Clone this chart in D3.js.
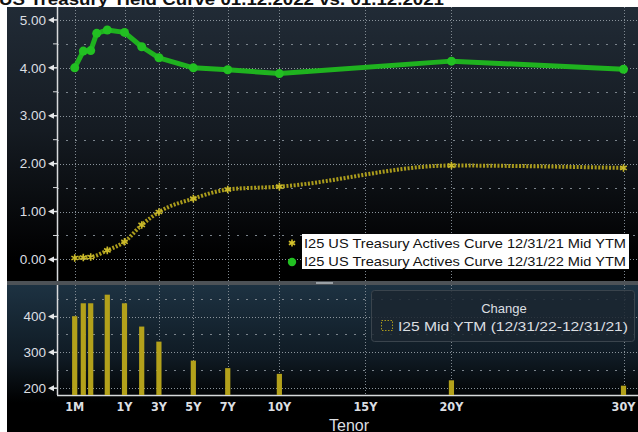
<!DOCTYPE html>
<meta charset="utf-8">
<style>
    body { margin: 0; background: #fff; }
    text { font-family: "Liberation Sans", Arial, sans-serif; }
    .tick-label { fill: #dcdfe2; font-size: 13.5px; }
    .x-label { fill: #dcdfe2; font-size: 12.5px; font-weight: bold; font-family: "DejaVu Sans Condensed", "Liberation Sans Narrow", "Liberation Sans", sans-serif; }
</style>
<svg width="638" height="432"></svg>
<script src="https://cdn.jsdelivr.net/npm/d3@7/dist/d3.min.js"></script>
<script>
    // tenors in months, tick labels
    var tenors22 = ["1M", "2M", "3M", "4M", "6M", "1Y", "2Y", "3Y", "5Y", "7Y", "10Y", "20Y", "30Y"];
    var yields22 = [4.00, 4.35, 4.36, 4.72, 4.79, 4.74, 4.44, 4.21, 4.00, 3.96, 3.88, 4.14, 3.97];

    var tenors21 = ["1M", "2M", "3M", "6M", "1Y", "2Y", "3Y", "5Y", "7Y", "10Y", "20Y", "30Y"];
    var yields21 = [0.03, 0.04, 0.05, 0.19, 0.37, 0.72, 0.99, 1.27, 1.46, 1.52, 1.96, 1.91];

    var changeBp = [401, 437, 437, 461, 437, 372, 330, 277, 256, 240, 222, 207];

    var xTicks = ["1M", "1Y", "3Y", "5Y", "7Y", "10Y", "15Y", "20Y", "30Y"];
    var yTicksTop = [0, 1, 2, 3, 4, 5];
    var yTicksBottom = [200, 300, 400];

    function months(t) {
        var n = parseFloat(t);
        return t.slice(-1) === "Y" ? n * 12 : n;
    }

    var svg = d3.select("svg"),
        W = 638, H = 432;

    var defs = svg.append("defs");
    var g1 = defs.append("linearGradient").attr("id", "bgTop").attr("x1", 0).attr("x2", 0).attr("y1", 0).attr("y2", 1);
    g1.append("stop").attr("offset", "0%").attr("stop-color", "#212b36");
    g1.append("stop").attr("offset", "45%").attr("stop-color", "#151b22");
    g1.append("stop").attr("offset", "92%").attr("stop-color", "#000");
    var g2 = defs.append("linearGradient").attr("id", "bgBottom").attr("x1", 0).attr("x2", 0).attr("y1", 0).attr("y2", 1);
    g2.append("stop").attr("offset", "0%").attr("stop-color", "#1d3242");
    g2.append("stop").attr("offset", "50%").attr("stop-color", "#0f1a23");
    g2.append("stop").attr("offset", "80%").attr("stop-color", "#000");

    // white page + title, partly cut at the top
    svg.append("rect").attr("width", W).attr("height", H).attr("fill", "#fff");
    svg.append("text")
        .attr("x", -1).attr("y", 5)
        .attr("textLength", 445).attr("lengthAdjust", "spacingAndGlyphs")
        .style("font-size", "17px").style("font-weight", "bold").style("fill", "#111")
        .text("US Treasury Yield Curve 01.12.2022 vs. 01.12.2021");

    var topP = {y0: 7, y1: 281}, botP = {y0: 285, y1: 432, axis: 395};
    var axisX = 57;

    svg.append("rect").attr("x", 7).attr("y", topP.y0).attr("width", W - 7).attr("height", topP.y1 - topP.y0).attr("fill", "url(#bgTop)");
    svg.append("rect").attr("x", 7).attr("y", botP.y0).attr("width", W - 7).attr("height", botP.y1 - botP.y0).attr("fill", "url(#bgBottom)");
    svg.append("rect").attr("x", 7).attr("y", topP.y1).attr("width", W - 7).attr("height", botP.y0 - topP.y1).attr("fill", "#4d5257");
    svg.append("rect").attr("x", 316).attr("y", 282).attr("width", 17).attr("height", 2).attr("fill", "#9aa0a5");

    var x = d3.scaleLinear()
        .domain([1, 2, 3, 4, 6, 12, 360])
        .range([74.7, 83.3, 90.7, 96.7, 107.3, 124.5, 623.5]);

    var y = d3.scaleLinear().domain([-0.45, 5.27]).range([topP.y1, topP.y0]);
    var y2 = d3.scaleLinear().domain([181, 488]).range([botP.axis, botP.y0]);

    // grid
    var grid = svg.append("g");
    function hGrid(scale, vals, dash, col) {
        grid.selectAll(null).data(vals).enter().append("line")
            .attr("x1", axisX).attr("x2", W)
            .attr("y1", function(d) { return Math.round(scale(d)) + 0.5; })
            .attr("y2", function(d) { return Math.round(scale(d)) + 0.5; })
            .attr("stroke", col).attr("stroke-dasharray", dash);
    }
    hGrid(y, yTicksTop, "1,2", "#8b949c");
    hGrid(y, [0.5, 1.5, 2.5, 3.5, 4.5], "2,7", "#7b848c");
    hGrid(y2, yTicksBottom, "1,2", "#8b949c");
    hGrid(y2, [250, 350, 450], "2,7", "#7b848c");

    [[topP.y0, topP.y1], [botP.y0, botP.axis]].forEach(function(r) {
        grid.selectAll(null).data(xTicks).enter().append("line")
            .attr("x1", function(d) { return Math.round(x(months(d))) + 0.5; })
            .attr("x2", function(d) { return Math.round(x(months(d))) + 0.5; })
            .attr("y1", r[0]).attr("y2", r[1])
            .attr("stroke", "#7f8890").attr("stroke-dasharray", "1,2");
    });

    // y axes
    function yAxis(scale, vals, fmt, y0, y1, labelX) {
        var a = svg.append("g");
        a.append("line").attr("x1", axisX + 0.5).attr("x2", axisX + 0.5).attr("y1", y0).attr("y2", y1)
            .attr("stroke", "#d8dadc").attr("stroke-width", 1.5);
        var t = a.selectAll(null).data(vals).enter().append("g")
            .attr("transform", function(d) { return "translate(0," + scale(d) + ")"; });
        t.append("path").attr("d", "M48,0L54,-3L54,3Z").attr("fill", "#e6e8ea");
        t.append("line").attr("x1", 54).attr("x2", axisX).attr("stroke", "#e6e8ea").attr("stroke-width", 1.5);
        t.append("text").attr("class", "tick-label").attr("x", labelX).attr("dy", "0.35em")
            .attr("text-anchor", "end").text(fmt);
    }
    yAxis(y, yTicksTop, d3.format(".2f"), topP.y0, topP.y1, 46);
    yAxis(y2, yTicksBottom, d3.format("d"), botP.y0, botP.axis, 46);

    svg.selectAll(null).data([0.5, 1.5, 2.5, 3.5, 4.5]).enter().append("line")
        .attr("x1", 53).attr("x2", axisX).attr("y1", function(d) { return y(d); }).attr("y2", function(d) { return y(d); })
        .attr("stroke", "#d8dadc");

    // x axis
    svg.append("line").attr("x1", axisX).attr("x2", W).attr("y1", botP.axis + 0.5).attr("y2", botP.axis + 0.5)
        .attr("stroke", "#d8dadc").attr("stroke-width", 1.5);

    // bars
    svg.append("g").selectAll("rect").data(tenors21).enter().append("rect")
        .attr("x", function(d) { return x(months(d)) - 2.6; })
        .attr("width", 5.2)
        .attr("y", function(d, i) { return y2(changeBp[i]); })
        .attr("height", function(d, i) { return botP.axis - y2(changeBp[i]); })
        .attr("fill", "#b3a11b");

    svg.append("g").selectAll("text").data(xTicks).enter().append("text")
        .attr("class", "x-label")
        .attr("x", function(d) { return x(months(d)); })
        .attr("y", 411)
        .attr("text-anchor", "middle")
        .text(function(d) { return d; });

    svg.append("text").attr("x", 349).attr("y", 431).attr("text-anchor", "middle")
        .style("fill", "#dcdfe2").style("font-size", "16px").text("Tenor");

    // 2021 curve
    var line21 = d3.line()
        .x(function(d, i) { return x(months(tenors21[i])); })
        .y(function(d) { return y(d); })
        .curve(d3.curveMonotoneX);
    svg.append("path").datum(yields21).attr("d", line21)
        .attr("fill", "none").attr("stroke", "#ab9c1c").attr("stroke-width", 4).attr("stroke-dasharray", "2,1.6");
    svg.append("g").selectAll("path").data(yields21).enter().append("path")
        .attr("transform", function(d, i) { return "translate(" + x(months(tenors21[i])) + "," + y(d) + ")"; })
        .attr("d", d3.symbol(d3.symbolAsterisk, 40))
        .attr("fill", "none").attr("stroke", "#c9b92a").attr("stroke-width", 1.6);

    // 2022 curve
    var line22 = d3.line()
        .x(function(d, i) { return x(months(tenors22[i])); })
        .y(function(d) { return y(d); });
    svg.append("path").datum(yields22).attr("d", line22)
        .attr("fill", "none").attr("stroke", "#1fb21f").attr("stroke-width", 5).attr("stroke-linejoin", "round");
    svg.append("g").selectAll("circle").data(yields22).enter().append("circle")
        .attr("cx", function(d, i) { return x(months(tenors22[i])); })
        .attr("cy", function(d) { return y(d); })
        .attr("r", 4.5).attr("fill", "#22c022");

    // legend, top panel
    var leg = svg.append("g");
    leg.append("rect").attr("x", 302).attr("y", 234).attr("width", 327).attr("height", 35).attr("fill", "#fff");
    var legItems = ["I25 US Treasury Actives Curve 12/31/21 Mid YTM", "I25 US Treasury Actives Curve 12/31/22 Mid YTM"];
    leg.selectAll("text").data(legItems).enter().append("text")
        .attr("x", 304).attr("y", function(d, i) { return 247.5 + i * 18.5; })
        .attr("textLength", 322).attr("lengthAdjust", "spacingAndGlyphs")
        .style("font-size", "13px").style("fill", "#111")
        .text(function(d) { return d; });
    leg.append("path").attr("transform", "translate(292,243)")
        .attr("d", d3.symbol(d3.symbolAsterisk, 36))
        .attr("fill", "none").attr("stroke", "#d4c22c").attr("stroke-width", 1.6);
    leg.append("circle").attr("cx", 292).attr("cy", 262).attr("r", 4.2).attr("fill", "#22c022");

    // legend, bottom panel
    var leg2 = svg.append("g");
    leg2.append("rect").attr("x", 371.5).attr("y", 290.5).attr("width", 263).attr("height", 51).attr("rx", 3)
        .attr("fill", "#1b2630").attr("fill-opacity", 0.85).attr("stroke", "#3a444d");
    leg2.append("text").attr("x", 504).attr("y", 313).attr("text-anchor", "middle")
        .style("fill", "#dcdfe2").style("font-size", "13px").text("Change");
    leg2.append("rect").attr("x", 381.5).attr("y", 320.5).attr("width", 11).attr("height", 10)
        .attr("fill", "none").attr("stroke", "#a8981c").attr("stroke-dasharray", "1.5,1.5");
    leg2.append("text").attr("x", 398).attr("y", 331)
        .attr("textLength", 230).attr("lengthAdjust", "spacingAndGlyphs")
        .style("fill", "#dcdfe2").style("font-size", "13.5px").text("I25 Mid YTM (12/31/22-12/31/21)");
</script>
